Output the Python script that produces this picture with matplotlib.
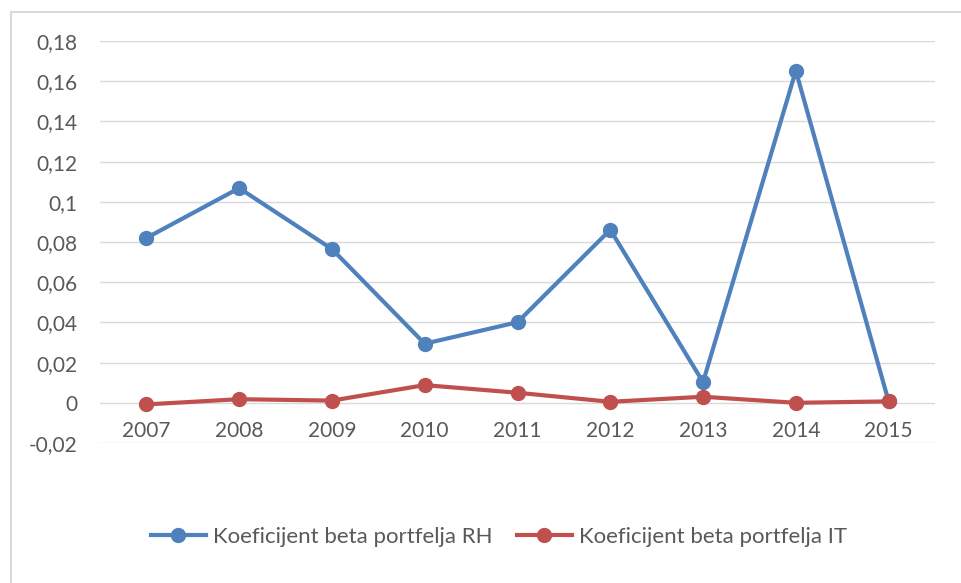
import matplotlib
matplotlib.use('Agg')
import matplotlib.pyplot as plt
from matplotlib.patches import Rectangle
from matplotlib.ticker import FuncFormatter, MultipleLocator

# Datos
godine = ['2007', '2008', '2009', '2010', '2011', '2012', '2013', '2014', '2015']
beta_rh = [0.082, 0.1068, 0.0765, 0.0294, 0.0401, 0.0861, 0.0103, 0.1652, 0.0007]
beta_it = [-0.0008, 0.0018, 0.0011, 0.0088, 0.0050, 0.0005, 0.0030, 0.0000, 0.0007]
naziv_rh = 'Koeficijent beta portfelja RH'
naziv_it = 'Koeficijent beta portfelja IT'

plt.rcParams['font.family'] = ['Lato', 'DejaVu Sans']
siva_tekst = '#595959'
siva_linija = '#D9D9D9'

fig = plt.figure(figsize=(9.61, 5.83), dpi=100)
ax = fig.add_axes([100 / 961, 1 - 443 / 583, 835 / 961, 402 / 583])

x = list(range(len(godine)))
ax.plot(x, beta_rh, color='#4F81BD', lw=3, marker='o', markersize=10, label=naziv_rh, zorder=3)
ax.plot(x, beta_it, color='#C0504D', lw=3, marker='o', markersize=10, label=naziv_it, zorder=3)

ax.set_xlim(-0.5, len(godine) - 0.5)
ax.set_ylim(-0.02, 0.18)
ax.yaxis.set_major_locator(MultipleLocator(0.02))
ax.yaxis.set_major_formatter(FuncFormatter(lambda v, _: f'{round(v, 4):g}'.replace('.', ',')))
ax.grid(axis='y', color=siva_linija, lw=1)
ax.set_axisbelow(True)

# Oznake godina ispod nulte linije (kao u Excelu)
ax.set_xticks(x)
ax.set_xticklabels(godine)
ax.spines['bottom'].set_position(('data', 0))
for s in ax.spines.values():
    s.set_visible(False)
ax.tick_params(axis='x', length=0, pad=13, labelsize=15, labelcolor=siva_tekst)
ax.tick_params(axis='y', length=0, pad=16, labelsize=15, labelcolor=siva_tekst)

fig.legend(loc='center', bbox_to_anchor=(0.519, 0.079), ncol=2, frameon=False,
           fontsize=16, handlelength=2.5, columnspacing=1.1, handletextpad=0.3,
           labelcolor=siva_tekst)

# Okvir grafikona
fig.patches.append(Rectangle((11 / 961, -0.1), 1.2, 1 - 12 / 583 + 0.1,
                             transform=fig.transFigure, fill=False,
                             edgecolor=siva_linija, lw=1.5))

plt.savefig('out.png', dpi=100)
